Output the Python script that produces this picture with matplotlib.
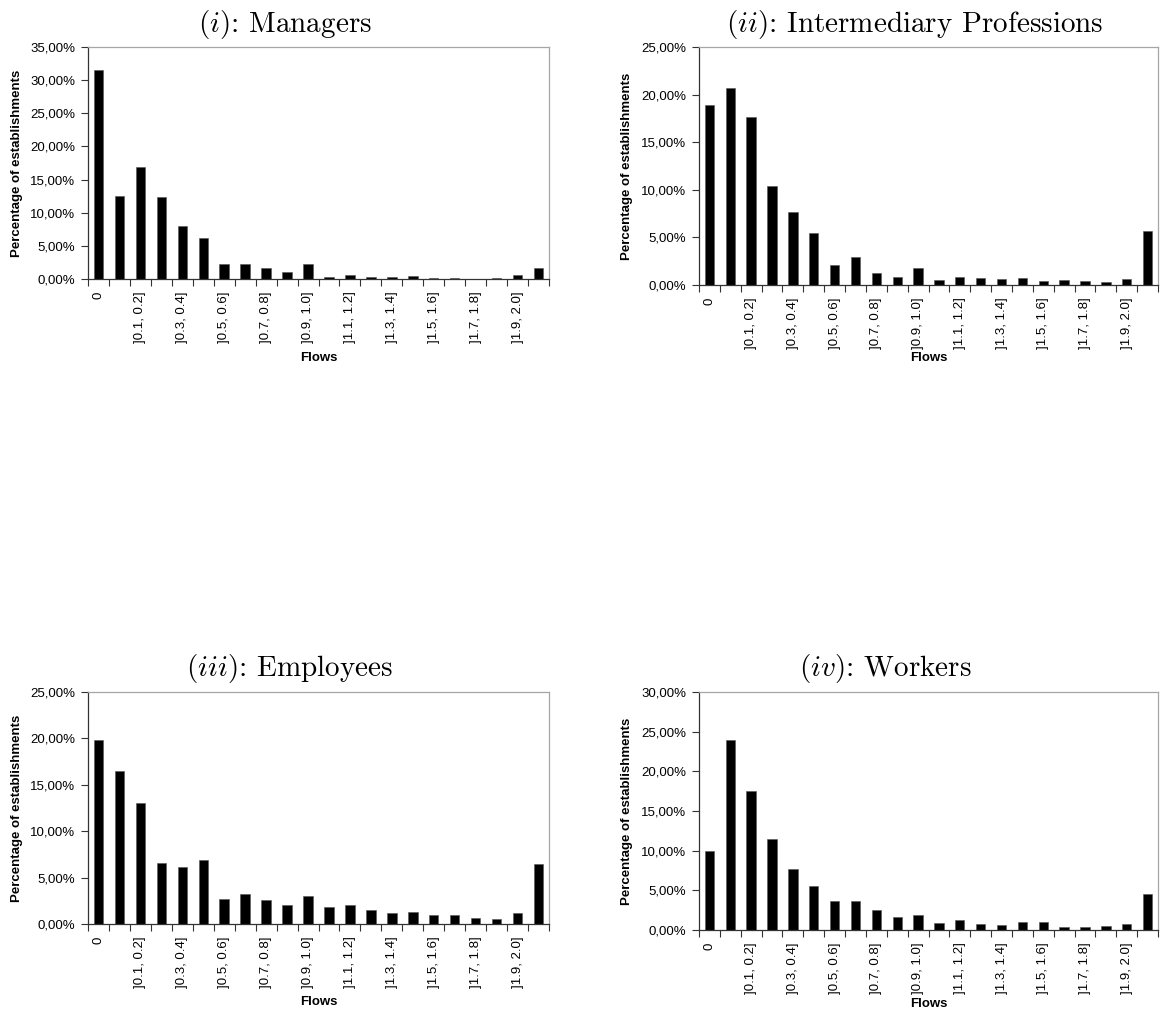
import matplotlib
matplotlib.use('Agg')
import matplotlib.pyplot as plt
from matplotlib.ticker import FixedLocator, FuncFormatter

plt.rcParams['font.family'] = ['Liberation Sans', 'DejaVu Sans']
plt.rcParams['mathtext.fontset'] = 'cm'

# --- data (percent of establishments per flow class) ---
categories = ["0", "]0, 0.1]", "]0.1, 0.2]", "]0.2, 0.3]", "]0.3, 0.4]", "]0.4, 0.5]",
              "]0.5, 0.6]", "]0.6, 0.7]", "]0.7, 0.8]", "]0.8, 0.9]", "]0.9, 1.0]",
              "]1.0, 1.1]", "]1.1, 1.2]", "]1.2, 1.3]", "]1.3, 1.4]", "]1.4, 1.5]",
              "]1.5, 1.6]", "]1.6, 1.7]", "]1.7, 1.8]", "]1.8, 1.9]", "]1.9, 2.0]", "> 2.0"]

managers = [31.5, 12.5, 16.9, 12.4, 8.0, 6.2, 2.25, 2.2, 1.7, 1.05, 2.2,
            0.25, 0.6, 0.35, 0.35, 0.5, 0.2, 0.2, 0.05, 0.2, 0.65, 1.65]
intermediary = [18.95, 20.7, 17.6, 10.45, 7.65, 5.45, 2.05, 2.95, 1.25, 0.88, 1.82,
                0.5, 0.88, 0.7, 0.6, 0.7, 0.42, 0.52, 0.42, 0.35, 0.6, 5.7]
employees = [19.85, 16.45, 13.05, 6.6, 6.15, 6.95, 2.7, 3.25, 2.6, 2.1, 3.0,
             1.8, 2.1, 1.5, 1.22, 1.3, 0.92, 1.0, 0.65, 0.55, 1.18, 6.45]
workers = [10.0, 23.95, 17.55, 11.45, 7.7, 5.5, 3.6, 3.6, 2.5, 1.6, 1.95,
           0.92, 1.3, 0.75, 0.65, 1.0, 1.0, 0.32, 0.4, 0.45, 0.75, 4.55]

titles = [r"$(i)$: Managers", r"$(ii)$: Intermediary Professions",
          r"$(iii)$: Employees", r"$(iv)$: Workers"]
y_max = [35, 25, 25, 30]

W, H = 1160, 1014
fig = plt.figure(figsize=(W / 100, H / 100), dpi=100)

# axes boxes in pixels: left, right, top, bottom
boxes = [(88, 549, 47, 279), (699, 1158, 47, 285),
         (88, 549, 692, 924), (699, 1158, 692, 930)]
title_pos = [(285, 32), (915, 32), (290, 676), (885, 676)]
ylabel_x = [17, 627, 17, 627]
flows_y = [358, 358, 1002, 1004]

series = [managers, intermediary, employees, workers]
x = list(range(len(categories)))

for i, vals in enumerate(series):
    l, r, t, b = boxes[i]
    ax = fig.add_axes([l / W, 1 - b / H, (r - l) / W, (b - t) / H])
    ax.bar(x, vals, width=0.45, color='black', edgecolor='#555555', linewidth=0.4)
    ax.set_xlim(-0.5, len(categories) - 0.5)
    ax.set_ylim(0, y_max[i])
    ax.set_yticks(range(0, y_max[i] + 1, 5))
    ax.yaxis.set_major_formatter(FuncFormatter(lambda v, p: f"{v:.2f}".replace('.', ',') + '%'))
    ax.tick_params(axis='y', direction='out', length=5, width=0.8, pad=4,
                   labelsize=9.5, color='#333333')

    # labels on every other category, tick marks between categories
    ax.set_xticks(x[::2])
    ax.set_xticklabels(categories[::2], rotation=90, va='top', ha='center')
    ax.tick_params(axis='x', which='major', length=0, pad=9, labelsize=9.5)
    ax.xaxis.set_minor_locator(FixedLocator([k - 0.5 for k in range(len(categories) + 1)]))
    ax.tick_params(axis='x', which='minor', direction='out', length=5, width=0.8, color='#333333')

    for s in ['left', 'bottom']:
        ax.spines[s].set_color('#333333')
        ax.spines[s].set_linewidth(0.9)
    for s in ['top', 'right']:
        ax.spines[s].set_color('#a6a6a6')
        ax.spines[s].set_linewidth(0.9)

    tx, ty = title_pos[i]
    fig.text(tx / W, 1 - ty / H, titles[i], fontsize=21, family='cmr10',
             ha='center', va='baseline')
    fig.text(ylabel_x[i] / W, 1 - ((t + b) / 2) / H, "Percentage of establishments",
             rotation=90, fontsize=9.5, fontweight='bold', ha='center', va='center')
    fig.text(((l + r) / 2) / W, 1 - flows_y[i] / H, "Flows", fontsize=9.5,
             fontweight='bold', ha='center', va='center')

fig.savefig('out.png', dpi=100)
